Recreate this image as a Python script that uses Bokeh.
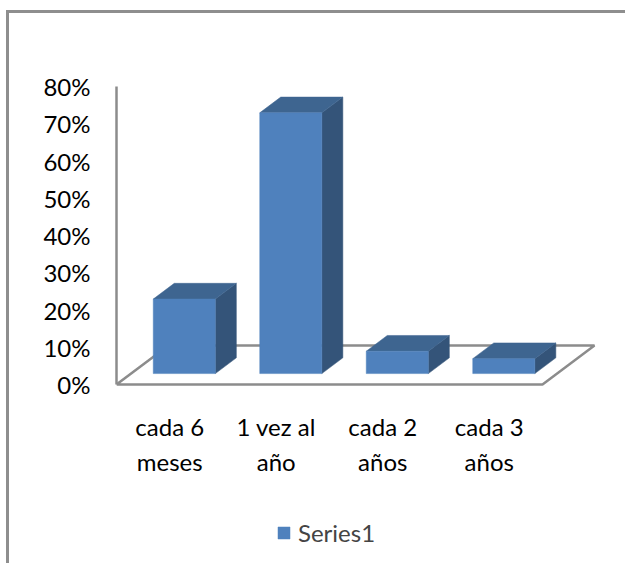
from bokeh.plotting import figure
from bokeh.models import FixedTicker, Legend, LegendItem
from bokeh.core.properties import value
from bokeh.embed import file_html
from bokeh.resources import INLINE

# ---- data ----
categories = ["cada 6\nmeses", "1 vez al\naño", "cada 2\naños", "cada 3\naños"]
values = [0.20, 0.70, 0.06, 0.04]
y_ticks = [0.0, 0.1, 0.2, 0.3, 0.4, 0.5, 0.6, 0.7, 0.8]
y_tick_labels = ["0%", "10%", "20%", "30%", "40%", "50%", "60%", "70%", "80%"]
series_name = "Series1"

# ---- style / geometry ----
FONT = "Lato"
FS = "24px"
FRONT = "#4F81BD"
TOP = "#3E6590"
SIDE = "#345479"
GRID = "#8C8C8C"

# oblique depth of the floor (data units) and bar placement inside it
DX, DY = 0.488, 0.1047
F_FRONT = 0.28   # fraction of depth where bar front face sits
D_BAR = 0.404    # bar depth as fraction of full floor depth
W = 0.583        # bar width

OX, OY = 9, 13   # page offset of canvas (css margin + 3px css border)
frame_left, frame_right = 116, 600
frame_top, frame_bottom = 80, 560
WIDTH, HEIGHT = 619, 553

px_per_x = 106.5
px_per_y = 298 / 0.8
x0 = -0.5
x1 = x0 + (frame_right - frame_left) / px_per_x
y0 = -(frame_bottom - 384) / px_per_y
y1 = 0.8 + (86 - frame_top) / px_per_y
label_y = -(443.5 - 384) / px_per_y   # category label block centre, below the floor

p = figure(width=WIDTH, height=HEIGHT, output_backend="svg", toolbar_location=None,
           x_range=(x0, x1), y_range=(y0, y1),
           min_border_left=frame_left - OX, min_border_right=OX + WIDTH - frame_right,
           min_border_top=frame_top - OY, min_border_bottom=OY + HEIGHT - frame_bottom,
           background_fill_color="white", border_fill_color="white")
p.margin = (10, 0, 0, 6)
p.styles = {"border-top": "3px solid #8E8E8E", "border-left": "3px solid #8E8E8E"}
p.outline_line_color = None
p.xgrid.visible = False
p.ygrid.visible = False
p.xaxis.visible = False

n = len(values)
# floor
p.patch([x0, x0 + n, x0 + n + DX, x0 + DX], [0, 0, DY, DY],
        fill_color="white", line_color=GRID, line_width=2.5)

# bars
lefts = [i + F_FRONT * DX - W / 2 for i in range(n)]
rights = [l + W for l in lefts]
bottoms = [F_FRONT * DY] * n
tops = [b + v for b, v in zip(bottoms, values)]
ddx, ddy = D_BAR * DX, D_BAR * DY

side_xs = [[r, r + ddx, r + ddx, r] for r in rights]
side_ys = [[b, b + ddy, t + ddy, t] for b, t in zip(bottoms, tops)]
top_xs = [[l, r, r + ddx, l + ddx] for l, r in zip(lefts, rights)]
top_ys = [[t, t, t + ddy, t + ddy] for t in tops]

p.patches(side_xs, side_ys, fill_color=SIDE, line_color=SIDE, line_width=0.5)
p.patches(top_xs, top_ys, fill_color=TOP, line_color=TOP, line_width=0.5)
front = p.quad(left=lefts, right=rights, bottom=bottoms, top=tops,
               fill_color=FRONT, line_color=FRONT, line_width=0.5)

# category labels (under the floor, at the category centres)
p.text(x=list(range(n)), y=[label_y] * n, text=categories,
       text_font=value(FONT), text_font_size=FS, text_color="black",
       text_align="center", text_baseline="middle", text_line_height=1.2)

# y axis
ya = p.yaxis[0]
ya.ticker = FixedTicker(ticks=y_ticks)
ya.major_label_overrides = {t: s for t, s in zip(y_ticks, y_tick_labels)}
ya.bounds = (0, 0.8)
ya.axis_line_color = GRID
ya.axis_line_width = 2.5
ya.major_tick_line_color = None
ya.minor_tick_line_color = None
ya.major_tick_out = 0
ya.major_tick_in = 0
ya.major_label_standoff = 26
ya.major_label_text_font = FONT
ya.major_label_text_font_size = FS
ya.major_label_text_color = "black"

legend = Legend(items=[LegendItem(label=series_name, renderers=[front])],
                location=(276 - frame_left, frame_bottom - 547),
                orientation="horizontal", border_line_color=None,
                background_fill_alpha=0, label_text_font=FONT,
                label_text_font_size=FS, glyph_width=15, glyph_height=15,
                label_standoff=7, padding=0, margin=0)
p.add_layout(legend, "center")

html = file_html(p, INLINE)
open("out.html", "w").write(html)
